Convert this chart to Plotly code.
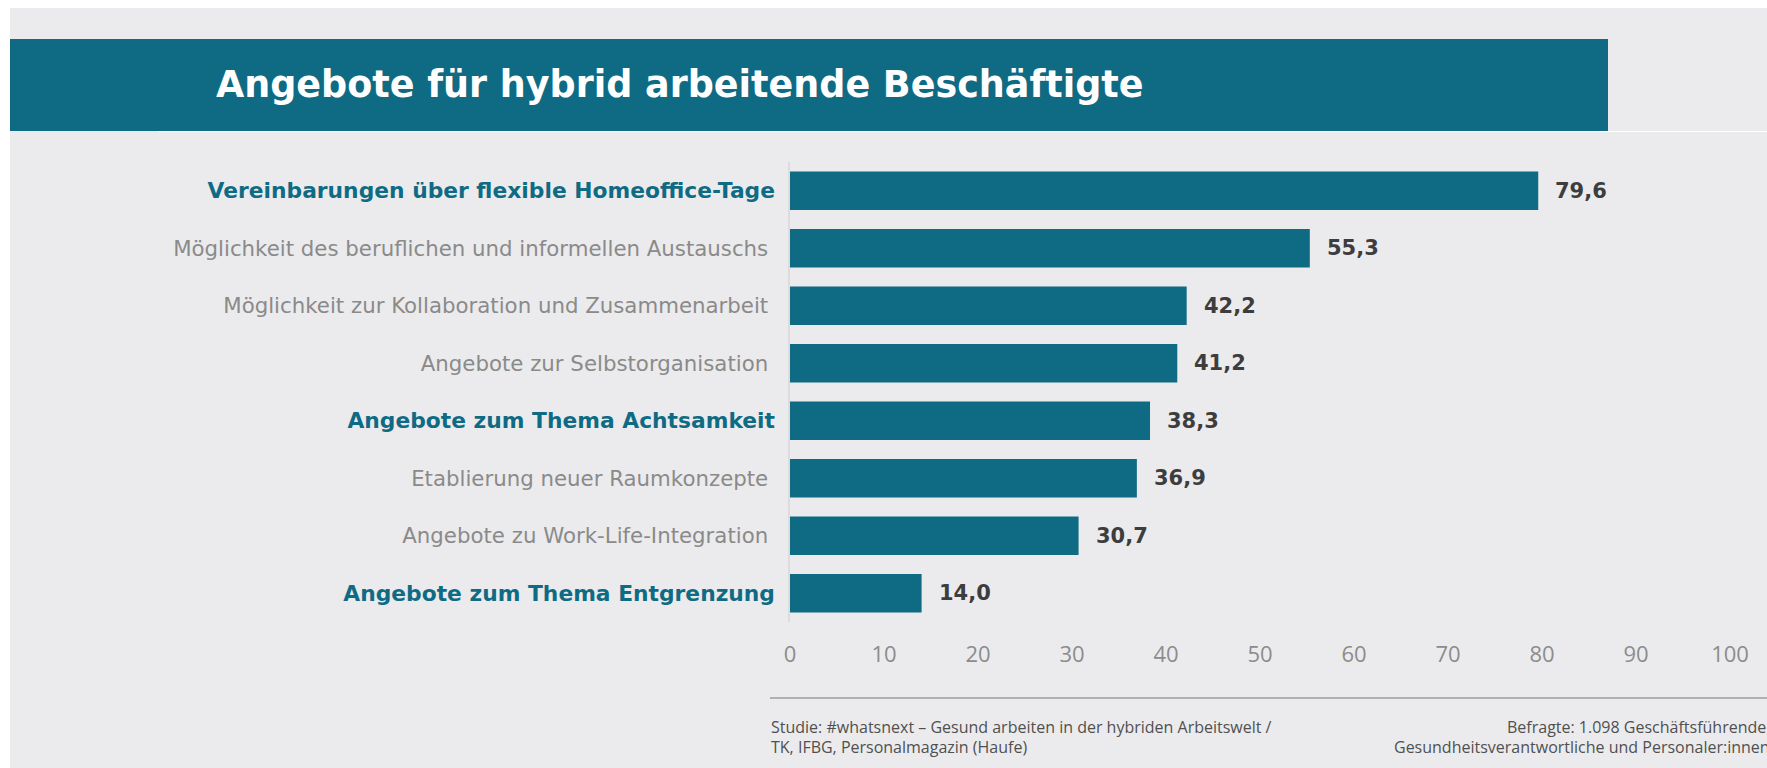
import plotly.graph_objects as go

# ---- data ----
categories = [
    "Vereinbarungen über flexible Homeoffice-Tage",
    "Möglichkeit des beruflichen und informellen Austauschs",
    "Möglichkeit zur Kollaboration und Zusammenarbeit",
    "Angebote zur Selbstorganisation",
    "Angebote zum Thema Achtsamkeit",
    "Etablierung neuer Raumkonzepte",
    "Angebote zu Work-Life-Integration",
    "Angebote zum Thema Entgrenzung",
]
values = [79.6, 55.3, 42.2, 41.2, 38.3, 36.9, 30.7, 14.0]
highlighted = [True, False, False, False, True, False, False, True]
x_ticks = [0, 10, 20, 30, 40, 50, 60, 70, 80, 90, 100]

title_text = "Angebote für hybrid arbeitende Beschäftigte"
footer_left = ["Studie: #whatsnext – Gesund arbeiten in der hybriden Arbeitswelt /",
               "TK, IFBG, Personalmagazin (Haufe)"]
footer_right = ["Befragte: 1.098 Geschäftsführende,",
                "Gesundheitsverantwortliche und Personaler:innen"]

# ---- style ----
W, H = 1767, 768
L, R, T, B = 790, 37, 162, 146
PW, PH = W - L - R, H - T - B
TEAL = "#0F6B84"
BG = "#EBEBED"
GRAY_LABEL = "#8a8a8a"
VALUE_COLOR = "#3d3d3d"


def px_x(p):
    return (p - L) / PW


def px_y(p):
    return 1 - (p - T) / PH


ticktext = []
for c, h in zip(categories, highlighted):
    if h:
        ticktext.append(f'<span style="color:{TEAL};font-size:21.8px"><b>{c}</b></span>')
    else:
        ticktext.append(f'<span style="color:{GRAY_LABEL}">{c}\u00a0</span>')

fig = go.Figure()
fig.add_trace(go.Bar(
    x=values,
    y=categories,
    orientation="h",
    marker=dict(color=TEAL, line=dict(width=0)),
    hoverinfo="skip",
))

annotations = []
for c, v in zip(categories, values):
    annotations.append(dict(
        x=v, y=c, xref="x", yref="y",
        text=f"<b>{v:.1f}</b>".replace(".", ","),
        showarrow=False, xanchor="left", yanchor="middle", xshift=15,
        font=dict(family="DejaVu Sans", size=21, color=VALUE_COLOR),
    ))

annotations.append(dict(
    x=px_x(214), y=px_y(85), xref="paper", yref="paper",
    text=f"<b>{title_text}</b>", showarrow=False,
    xanchor="left", yanchor="middle",
    font=dict(family="DejaVu Sans", size=36.5, color="white"),
))
FOOT_Y = [727, 747]
for i, line in enumerate(footer_left):
    annotations.append(dict(
        x=px_x(769), y=px_y(FOOT_Y[i]), xref="paper", yref="paper",
        text=line, showarrow=False, xanchor="left", yanchor="middle",
        font=dict(family="Open Sans", size=16, color="#505050"),
    ))
for i, line in enumerate(footer_right):
    annotations.append(dict(
        x=px_x(1772), y=px_y(FOOT_Y[i]), xref="paper", yref="paper",
        text=line, showarrow=False, xanchor="right", yanchor="middle",
        font=dict(family="Open Sans", size=16, color="#505050"),
    ))

shapes = [
    # white strips top and left
    dict(type="rect", xref="paper", yref="paper", x0=px_x(0), x1=px_x(W), y0=px_y(0), y1=px_y(8),
         fillcolor="white", line=dict(width=0), layer="below"),
    dict(type="rect", xref="paper", yref="paper", x0=px_x(0), x1=px_x(10), y0=px_y(0), y1=px_y(H),
         fillcolor="white", line=dict(width=0), layer="below"),
    # title banner
    dict(type="rect", xref="paper", yref="paper", x0=px_x(10), x1=px_x(1608), y0=px_y(39), y1=px_y(131),
         fillcolor=TEAL, line=dict(width=0), layer="below"),
    # thin white line under banner
    dict(type="line", xref="paper", yref="paper", x0=px_x(158), x1=px_x(W), y0=px_y(131.5), y1=px_y(131.5),
         line=dict(color="white", width=1), layer="below"),
    # footer rule
    dict(type="line", xref="paper", yref="paper", x0=px_x(770), x1=px_x(W), y0=px_y(698), y1=px_y(698),
         line=dict(color="#9c9c9c", width=1.5), layer="below"),
]

fig.update_layout(
    width=W, height=H,
    margin=dict(l=L, r=R, t=T, b=B, pad=0),
    paper_bgcolor=BG,
    plot_bgcolor="rgba(0,0,0,0)",
    showlegend=False,
    bargap=0.33,
    separators=",.",
    annotations=annotations,
    shapes=shapes,
    xaxis=dict(
        range=[0, 100], tickvals=x_ticks, ticktext=[str(t) for t in x_ticks],
        showgrid=False, zeroline=False, showline=False,
        ticks="", ticklabelstandoff=17,
        tickfont=dict(family="Open Sans", size=22, color="#8c8c8c"),
        fixedrange=True,
    ),
    yaxis=dict(
        categoryorder="array", categoryarray=categories,
        autorange="reversed",
        tickvals=categories, ticktext=ticktext,
        showgrid=False, zeroline=False,
        showline=True, linecolor="#dcdcde", linewidth=1.5,
        ticks="", ticklabelstandoff=9,
        tickfont=dict(family="DejaVu Sans", size=21.3, color=GRAY_LABEL),
        fixedrange=True,
    ),
)

fig.write_html(
    "out.html",
    config={"displayModeBar": False},
    post_script=(
        "document.body.style.margin='0';"
        "document.body.style.overflow='hidden';"
        "document.documentElement.style.overflow='hidden';"
    ),
)
